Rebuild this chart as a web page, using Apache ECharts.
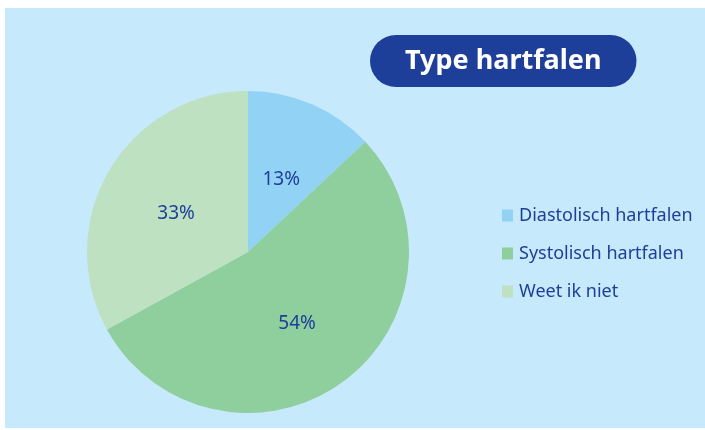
<!DOCTYPE html>
<html><head><meta charset="utf-8">
<script src="https://cdn.jsdelivr.net/npm/echarts@6/dist/echarts.min.js"></script>
<style>html,body{margin:0;padding:0;background:#fff}#c{width:705px;height:430px}</style>
</head><body><div id="c"></div>
<script>
const categories = ['Diastolisch hartfalen', 'Systolisch hartfalen', 'Weet ik niet'];
const values = [13, 54, 33];
const colors = ['#92d3f5', '#8fcf9e', '#bde1c1'];
const titleText = 'Type hartfalen';

const chart = echarts.init(document.getElementById('c'), null, {renderer: 'canvas'});
chart.setOption({
  backgroundColor: '#ffffff',
  animation: false,
  graphic: [{type: 'rect', z: -10, shape: {x: 5, y: 8, width: 700, height: 420}, style: {fill: '#c6e9fb'}}],
  title: {
    text: titleText,
    left: 370, top: 35,
    backgroundColor: '#1e3f99',
    borderRadius: 26,
    padding: [11, 35, 11, 35],
    textStyle: {color: '#ffffff', fontSize: 27, fontWeight: 'bold', fontFamily: 'Noto Sans', lineHeight: 30}
  },
  legend: {
    orient: 'vertical', left: 497, top: 201,
    itemWidth: 11, itemHeight: 12, itemGap: 19,
    icon: 'rect',
    data: categories,
    textStyle: {color: '#1e3f99', fontSize: 18, fontFamily: 'Noto Sans', lineHeight: 19, padding: [0, 0, 0, 1]}
  },
  series: [{
    type: 'pie',
    center: [248, 252], radius: 161,
    startAngle: 90, clockwise: true,
    label: {show: true, position: 'inside', formatter: '{c}%', color: '#1e3f99', fontSize: 19, fontFamily: 'Noto Sans', offset: [0, 4]},
    labelLine: {show: false},
    emphasis: {disabled: true},
    itemStyle: {borderWidth: 0},
    data: categories.map((n, i) => ({name: n, value: values[i], itemStyle: {color: colors[i]}}))
  }]
});
</script></body></html>
